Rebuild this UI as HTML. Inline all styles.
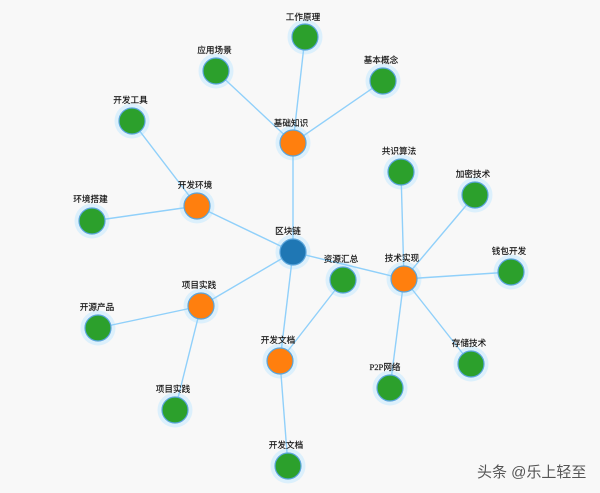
<!DOCTYPE html>
<html lang="zh">
<head>
<meta charset="utf-8">
<style>
html,body{margin:0;padding:0;background:#f8f8f8;}
svg{display:block;}
.e line{stroke:#90d0fa;stroke-width:1.4;}
.h circle{fill:#dcf0fc;}
.b{stroke:#5aa5dc;stroke-width:1.2;}
.g{fill:#2ca02c;}
.o{fill:#ff7f0e;}
.c{fill:#1f77b4;}
.t text{font-family:"Liberation Serif","Noto Sans CJK SC",serif;font-size:8.6px;fill:#111;stroke:#111;stroke-width:.15;text-anchor:middle;}
</style>
</head>
<body>
<svg width="600" height="493" viewBox="0 0 600 493" xmlns="http://www.w3.org/2000/svg">
<rect width="600" height="493" fill="#f8f8f8"/>
<g class="h">
<circle cx="293" cy="252" r="17.5"/>
<circle cx="293" cy="143" r="17.5"/>
<circle cx="197" cy="206" r="17.5"/>
<circle cx="201" cy="306" r="17.5"/>
<circle cx="280" cy="361" r="17.5"/>
<circle cx="404" cy="279" r="17.5"/>
<circle cx="305" cy="37" r="17.5"/>
<circle cx="216" cy="71" r="17.5"/>
<circle cx="383" cy="81" r="17.5"/>
<circle cx="132" cy="121" r="17.5"/>
<circle cx="92" cy="221" r="17.5"/>
<circle cx="98" cy="328" r="17.5"/>
<circle cx="175" cy="410" r="17.5"/>
<circle cx="288" cy="466" r="17.5"/>
<circle cx="343" cy="280" r="17.5"/>
<circle cx="401" cy="172" r="17.5"/>
<circle cx="475" cy="195" r="17.5"/>
<circle cx="511" cy="272" r="17.5"/>
<circle cx="471" cy="364" r="17.5"/>
<circle cx="390" cy="388" r="17.5"/>
</g>
<g class="e">
<line x1="293" y1="252" x2="293" y2="143"/>
<line x1="293" y1="143" x2="305" y2="37"/>
<line x1="293" y1="143" x2="216" y2="71"/>
<line x1="293" y1="143" x2="383" y2="81"/>
<line x1="293" y1="252" x2="197" y2="206"/>
<line x1="197" y1="206" x2="132" y2="121"/>
<line x1="197" y1="206" x2="92" y2="221"/>
<line x1="293" y1="252" x2="201" y2="306"/>
<line x1="201" y1="306" x2="98" y2="328"/>
<line x1="201" y1="306" x2="175" y2="410"/>
<line x1="293" y1="252" x2="280" y2="361"/>
<line x1="280" y1="361" x2="288" y2="466"/>
<line x1="280" y1="361" x2="343" y2="280"/>
<line x1="293" y1="252" x2="404" y2="279"/>
<line x1="404" y1="279" x2="401" y2="172"/>
<line x1="404" y1="279" x2="475" y2="195"/>
<line x1="404" y1="279" x2="511" y2="272"/>
<line x1="404" y1="279" x2="471" y2="364"/>
<line x1="404" y1="279" x2="390" y2="388"/>
</g>
<g>
<circle class="c b" cx="293" cy="252" r="13"/>
<circle class="o b" cx="293" cy="143" r="13"/>
<circle class="o b" cx="197" cy="206" r="13"/>
<circle class="o b" cx="201" cy="306" r="13"/>
<circle class="o b" cx="280" cy="361" r="13"/>
<circle class="o b" cx="404" cy="279" r="13"/>
<circle class="g b" cx="305" cy="37" r="13"/>
<circle class="g b" cx="216" cy="71" r="13"/>
<circle class="g b" cx="383" cy="81" r="13"/>
<circle class="g b" cx="132" cy="121" r="13"/>
<circle class="g b" cx="92" cy="221" r="13"/>
<circle class="g b" cx="98" cy="328" r="13"/>
<circle class="g b" cx="175" cy="410" r="13"/>
<circle class="g b" cx="288" cy="466" r="13"/>
<circle class="g b" cx="343" cy="280" r="13"/>
<circle class="g b" cx="401" cy="172" r="13"/>
<circle class="g b" cx="475" cy="195" r="13"/>
<circle class="g b" cx="511" cy="272" r="13"/>
<circle class="g b" cx="471" cy="364" r="13"/>
<circle class="g b" cx="390" cy="388" r="13"/>
</g>
<g class="t">
<text x="288" y="234">区块链</text>
<text x="291" y="126">基础知识</text>
<text x="303" y="20">工作原理</text>
<text x="214.5" y="53">应用场景</text>
<text x="381" y="63">基本概念</text>
<text x="195" y="188">开发环境</text>
<text x="130.5" y="103">开发工具</text>
<text x="90.5" y="202">环境搭建</text>
<text x="199" y="288">项目实践</text>
<text x="97" y="310">开源产品</text>
<text x="173" y="392">项目实践</text>
<text x="278" y="343">开发文档</text>
<text x="286" y="448">开发文档</text>
<text x="341" y="262">资源汇总</text>
<text x="402" y="261">技术实现</text>
<text x="399" y="154">共识算法</text>
<text x="473" y="177">加密技术</text>
<text x="509" y="254">钱包开发</text>
<text x="469" y="346">存储技术</text>
<text x="385" y="370">P2P网络</text>
</g>
<text x="477" y="477" style="font-family:'Liberation Sans','Noto Sans CJK SC',sans-serif;font-size:15px;fill:#555;">头条 @乐上轻至</text>
</svg>
</body>
</html>
